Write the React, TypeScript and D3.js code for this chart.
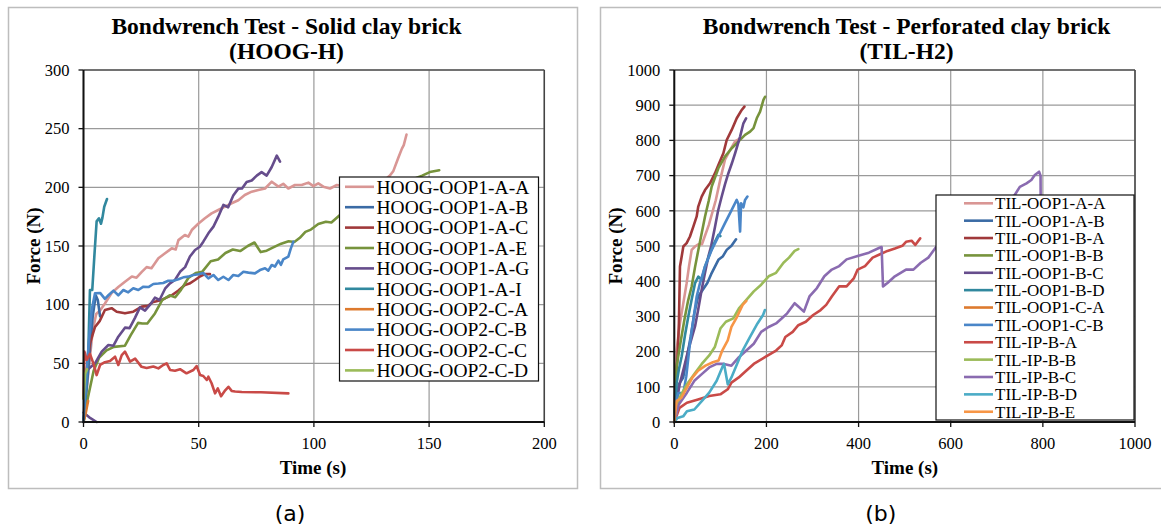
import React from "react";
import * as d3 from "d3";

type P = [number, number] | null;

// ---------------- Panel (a): HOOG-H ----------------
const hoogXTicks = [0, 50, 100, 150, 200];
const hoogYTicks = [0, 50, 100, 150, 200, 250, 300];
const hoogNames = [
  "HOOG-OOP1-A-A", "HOOG-OOP1-A-B", "HOOG-OOP1-A-C", "HOOG-OOP1-A-E", "HOOG-OOP1-A-G",
  "HOOG-OOP1-A-I", "HOOG-OOP2-C-A", "HOOG-OOP2-C-B", "HOOG-OOP2-C-C", "HOOG-OOP2-C-D",
];
const hoogColors = ["#D99694", "#3B6BA5", "#A0393A", "#77933C", "#664D8C", "#31889E", "#DD7A2E", "#4A86C8", "#C94A47", "#9BBB59"];

const hoogA_A: P[] = [[0,0],[2,40],[4,78],[5.5,92],[7.2,95],[9.3,101],[12.2,110],[15.1,115],[18,119.6],[21,124],[23,123],[25.3,128],[27.4,132],[29.5,131],[32.5,139.5],[35.4,143.8],[38.3,148],[40,147],[41.2,155],[44,159.4],[45.5,158],[47,163.6],[49.8,169],[52.7,173.6],[55.6,177.8],[58.5,180.7],[61.4,183.5],[64.3,186.4],[67.2,189],[70,193.5],[73,196.3],[75.9,197.7],[78.8,199],[81.7,204.8],[84.6,200.6],[86.7,203],[88.9,199],[91.8,202],[94.7,202],[97.6,204],[99.8,201],[101.9,203.4],[104.1,200.6],[107,199],[110,202],[115,200],[120,203],[125,201],[130,205],[133,210],[134.5,214],[136.6,225],[138.2,233],[139,236],[140.2,245]];
const hoogA_B: P[] = [[0,0],[1,20],[2.5,55],[4,90],[5.3,108],[6.2,104],[7.2,90]];
const hoogA_C: P[] = [[0,20],[0.7,33],[2.8,67],[5,81],[7,86],[9.3,95.5],[12.2,97],[14.4,94],[18,92.6],[21.6,94],[25.3,98.3],[28,99],[30,102],[33.9,104],[36,106],[38.3,108],[41.2,112],[44,116.8],[46,118],[48.4,121],[50.5,124],[52.7,126],[54.9,126]];
const hoogA_E: P[] = [[0,0],[1.9,20.7],[4.4,43.7],[6.8,55],[10,61],[13.2,64],[18,65],[20.5,74],[23.7,84.5],[25.5,84],[27.7,84],[31,92.5],[34.2,104],[37.4,108],[39.8,106.3],[42.3,112.6],[45.5,122.7],[48.7,127],[51.5,128],[55.2,137],[58.4,138.5],[61.6,144],[64.8,147],[68,145.7],[71.3,150],[74.2,153],[76.9,144.8],[79.5,146],[82.6,149],[85.8,152],[89,154],[91.5,153.4],[93.9,157],[96.3,162],[98.7,164],[101.9,168.7],[105.2,170.7],[107.6,170],[111.3,176.4],[118,185],[125,192],[132,198],[138,203],[143,207],[147,210],[150.3,213],[154.4,214.6]];
const hoogA_G: P[] = [[0,8],[2.5,4],[5.7,0],null,[2,45],[5,50],[7.9,60],[10.8,65.6],[13,65],[15.1,72.7],[18,80.4],[20,80],[22.4,89],[24.5,97.7],[26.7,95],[28.9,100],[31,106],[33,104],[35.4,113.6],[37.4,118],[39.7,121],[41.9,128],[44.1,132],[46.2,141],[48.4,146.6],[50.5,149.4],[52,153.7],[54.2,160.8],[56.4,166.5],[58.5,175],[60.7,185],[62.8,183],[65,193],[67.2,198.9],[68.8,199],[70.8,204.5],[73,205.8],[75.2,210],[77.3,213],[79.5,210],[81.7,217.3],[83.9,227],[85.3,222]];
const hoogA_I: P[] = [[0,0],[1,25],[2.1,61],[2.8,112.5],[3.8,112.5],[4.7,141],[5.7,171],[6.7,173.6],[7.6,169],[8.2,174],[9,183.5],[10.2,190]];
const hoogC_A: P[] = [[0,0],[0.8,6],[1.5,13],[2,18]];
const hoogC_B: P[] = [[0,0],[0.5,19],[2,60],[3.5,95],[5,109.7],[7.2,110],[9.3,105],[10.8,108],[13,112],[15.1,108],[17.3,112.5],[19.4,110.5],[21.6,114],[23.8,112.5],[26,115.3],[28.2,115],[30.3,117.6],[32.5,118],[34.6,118.5],[36.8,120.4],[39,120.4],[41.2,121.6],[43.3,123.3],[45.5,123.9],[47.7,125.3],[49.9,126],[52,127],[54.2,122.4],[56.4,125.3],[58.5,121],[60.7,123.8],[62.9,121],[65,125.3],[67.2,124.5],[69.4,128],[71.6,127.3],[74.4,126.7],[76.6,129.5],[78.8,131],[80.2,129],[81.7,133.8],[83.1,132.5],[84.6,137.5],[85.7,134],[86.7,138.6],[88.9,141],[90,148],[91.1,153.7]];
const hoogC_C: P[] = [[0,22],[0.4,60],[1.4,53],[2.8,58],[4.3,50],[5.7,40],[7.2,48.6],[9.3,51],[11.5,52],[13.7,55.7],[15.1,48.6],[16.6,57],[18,60],[20.2,51.4],[22.4,54],[25.2,47],[27.4,46],[30.3,47.3],[32.5,45.7],[34.6,48.6],[36.1,50],[37.6,44.3],[39.7,43.7],[41.9,45],[44.7,41.5],[47.7,44.3],[49.1,47.7],[50.6,40],[52,39.2],[53.5,35.8],[54.2,38.6],[55.6,33],[57.1,24.4],[58.3,28.6],[59.7,22],[61.5,27],[62.9,30],[64.3,26.5],[65.8,26],[68.7,25.6],[77,25.3],[88.9,24.4]];
const hoogC_D: P[] = [[0,20],[0.7,41],[1.5,45]];
const hoogSeries = [hoogA_A, hoogA_B, hoogA_C, hoogA_E, hoogA_G, hoogA_I, hoogC_A, hoogC_B, hoogC_C, hoogC_D];

// ---------------- Panel (b): TIL-H2 ----------------
const tilXTicks = [0, 200, 400, 600, 800, 1000];
const tilYTicks = [0, 100, 200, 300, 400, 500, 600, 700, 800, 900, 1000];
const tilNames = [
  "TIL-OOP1-A-A", "TIL-OOP1-A-B", "TIL-OOP1-B-A", "TIL-OOP1-B-B", "TIL-OOP1-B-C", "TIL-OOP1-B-D",
  "TIL-OOP1-C-A", "TIL-OOP1-C-B", "TIL-IP-B-A", "TIL-IP-B-B", "TIL-IP-B-C", "TIL-IP-B-D", "TIL-IP-B-E",
];
const tilColors = ["#D99694", "#3B6BA5", "#A0393A", "#77933C", "#664D8C", "#31889E", "#DD7A2E", "#4A86C8", "#C94A47", "#9BBB59", "#8A6BB0", "#4BACC6", "#F79646"];

const tilOA_A: P[] = [[0,0],[5,205],[12.3,281],[19.6,337.7],[26.8,394.5],[31.9,442],[37.7,489],[44.9,498.6],[52.2,505],[60,505],[75,560],[90,630],[100,690],[110,745],[120,770],[132,797],[143,806]];
const tilOA_B: P[] = [[0,0],[5,60],[9.7,107],[19.3,126.6],[27.4,184],[35.5,241.6],[43.5,308.7],[51.6,356.7],[60,372],[71.7,395],[80,420],[95.7,460.7],[105,470],[113.8,489],[124.1,500.5],[134,519]];
const tilOB_A: P[] = [[0,0],[3,120],[7,182],[10,281],[12.3,442],[16,470],[19.6,498.6],[26.8,508],[34,527],[41.3,555],[48.6,584],[52,612],[59.4,640.5],[66.7,659],[77.5,678],[88.4,707],[95.7,730],[106.5,763.5],[113.8,801],[124.6,829.7],[135.5,862.8],[146.4,886.5],[152.2,896]];
const tilOB_B: P[] = [[0,0],[5,158],[14,230],[23.2,300],[30,345],[37.7,385],[45,440],[52.2,489],[60,540],[66.7,584],[75,630],[81.2,669],[95.7,721],[110,754],[124.6,777.7],[139,796.6],[153.6,815.5],[164.5,825],[172,835],[179,862.8],[186.2,881.7],[193.5,915],[197,924]];
const tilOB_C: P[] = [[0,0],[5,60],[12.3,110.7],[20,150],[30.4,205],[38,240],[45,271.5],[52,320],[59.4,375.6],[66,420],[73.9,470],[80,500],[88.4,555],[95,600],[102.9,640.5],[110,675],[117.4,706.7],[125,735],[132,763.5],[142.8,810.8],[150,848.6],[155.8,862.8]];
const tilOB_D: P[] = [[0,0],[5,110],[10,150],[16,186],[23,245],[30.4,300],[38,350],[45,394.5],[52.2,413],[59.4,404],[66.7,442],[77.5,479.6],[88.4,512.8],[95.7,531.7],[100,528]];
const tilOC_A: P[] = [[0,0],[2,30],[4,55]];
const tilOC_B: P[] = [[0,0],[4,60],[8.7,82],[19.6,82],[26,130],[34,224],[41.3,290],[48.6,356.7],[55.8,394.5],[66.7,442],[81.2,489],[95.7,527],[110,565],[124.6,602.6],[135.5,631],[139,620],[142.8,541],[145,621.6],[150,610],[153.6,631],[158.7,640.5]];
const tilIP_A: P[] = [[0,0],[11.3,40],[27.4,54.7],[51.6,64],[75.8,73.8],[100,78.6],[116,93],[124,112],[140,126.6],[156,145.7],[172.5,165],[196.7,184],[220.9,203],[233,217.6],[241,241.6],[257,256],[269.2,275],[285.4,284.7],[301.5,304],[317.6,318],[329.7,332.7],[341.9,356.7],[358,385.4],[374,385.4],[390,409],[398,433],[414,443],[430.5,467],[446.6,476.5],[462.7,486],[478.8,492.8],[495,500.5],[503,512],[515,515],[523,503],[533.7,521.6]];
const tilIP_B: P[] = [[0,0],[11.3,69],[27.4,107],[43.5,136],[59.6,165],[75.8,189],[87.9,213],[100,265.6],[112,284.7],[128,294.4],[140.3,323],[156.4,347],[172.5,371],[188.6,390],[204.8,414],[220.9,423.8],[237,452.5],[249,467],[261.2,486],[269.2,491]];
const tilIP_C: P[] = [[0,0],[9.7,50],[27.4,83.4],[43.5,117],[59.6,136],[75.8,155],[92,165],[108,165],[124,160],[140.3,184],[156.4,203],[172.5,222.4],[188.6,256],[204.8,270],[220.9,280],[233,294],[245,308.7],[261.2,337.5],[269.2,328],[281.3,313.5],[293.4,356.7],[309.6,380.6],[325.7,414],[341.9,433],[358,443],[374,462],[398,471.7],[422.4,481],[446.6,495.7],[450,497],[453,385.4],[462.7,395],[478.8,414],[503,433],[519,433],[535,452.5],[551.4,467],[567.5,495.7],[600,530],[650,570],[700,610],[739,645],[750,668],[764.5,678],[775,687.5],[782.5,701.7],[791.8,711],[795,700],[795.5,560]];
const tilIP_D: P[] = [[0,0],[7,11.5],[19.3,16],[27.4,30.7],[43.5,35.5],[59.6,59.4],[75.8,83.4],[92,117],[104,155],[108,165],[116,107],[124,126.6],[136.2,165],[148.3,203],[164.4,241.6],[180.6,280],[192.7,304],[196.7,318]];
const tilIP_E: P[] = [[0,0],[4.8,59.4],[15.3,69],[27.4,98],[39.5,126.6],[51.6,145.7],[67.7,160],[83.8,169.7],[96,174.5],[104,203],[116,232],[124,270],[136.2,299],[148.3,332.7],[156.4,344]];
const tilSeries = [tilOA_A, tilOA_B, tilOB_A, tilOB_B, tilOB_C, tilOB_D, tilOC_A, tilOC_B, tilIP_A, tilIP_B, tilIP_C, tilIP_D, tilIP_E];

const SERIF = "'Liberation Serif', 'Times New Roman', serif";

type PanelProps = {
  frame: [number, number, number, number];
  plot: [number, number, number, number]; // left, top, right, bottom
  xMax: number;
  yMax: number;
  xTicks: number[];
  yTicks: number[];
  title: string[];
  titleX: number;
  names: string[];
  colors: string[];
  series: P[][];
  legend: { x: number; y: number; w: number; h: number; row0: number; step: number; l0: number; l1: number; tx: number; fs: number };
  caption: string;
  captionX: number;
  yLabelX: number;
  xLabelX: number;
};

function Panel(p: PanelProps) {
  const [pl, pt, pr, pb] = p.plot;
  const x = d3.scaleLinear().domain([0, p.xMax]).range([pl, pr]);
  const y = d3.scaleLinear().domain([0, p.yMax]).range([pb, pt]);
  const line = d3
    .line<P>()
    .defined((d) => d !== null)
    .x((d) => x((d as [number, number])[0]))
    .y((d) => y((d as [number, number])[1]));
  const [fx, fy, fw, fh] = p.frame;
  const L = p.legend;
  return (
    <g>
      <rect x={fx} y={fy} width={fw} height={fh} fill="#fff" stroke="#bdbdbd" strokeWidth={1.5} />
      {p.title.map((t, i) => (
        <text key={i} x={p.titleX} y={34 + i * 25} textAnchor="middle" fontFamily={SERIF} fontWeight="bold" fontSize={23.5} fill="#000">
          {t}
        </text>
      ))}
      {p.xTicks.map((t) => (
        <line key={"gx" + t} x1={x(t)} x2={x(t)} y1={pt} y2={pb} stroke="#9a9a9a" strokeWidth={1.2} />
      ))}
      {p.yTicks.map((t) => (
        <line key={"gy" + t} x1={pl} x2={pr} y1={y(t)} y2={y(t)} stroke="#9a9a9a" strokeWidth={1.2} />
      ))}
      <line x1={pl} x2={pr} y1={pt} y2={pt} stroke="#555" strokeWidth={1.3} />
      <line x1={pr} x2={pr} y1={pt} y2={pb} stroke="#444" strokeWidth={1.5} />
      {p.series.map((s, i) => (
        <path key={"s" + i} d={line(s) || ""} fill="none" stroke={p.colors[i]} strokeWidth={2.6} strokeLinejoin="round" strokeLinecap="round" />
      ))}
      <line x1={pl} x2={pl} y1={pt} y2={pb + 1} stroke="#111" strokeWidth={2} />
      <line x1={pl} x2={pr} y1={pb} y2={pb} stroke="#111" strokeWidth={2.2} />
      {p.yTicks.map((t) => (
        <g key={"ty" + t}>
          <line x1={pl - 5} x2={pl} y1={y(t)} y2={y(t)} stroke="#111" strokeWidth={1.3} />
          <text x={pl - 14} y={y(t)} dy="0.35em" textAnchor="end" fontFamily={SERIF} fontSize={16.5} fill="#000">
            {t}
          </text>
        </g>
      ))}
      {p.xTicks.map((t) => (
        <g key={"tx" + t}>
          <line x1={x(t)} x2={x(t)} y1={pb} y2={pb + 5} stroke="#111" strokeWidth={1.3} />
          <text x={x(t)} y={448.5} textAnchor="middle" fontFamily={SERIF} fontSize={16.5} fill="#000">
            {t}
          </text>
        </g>
      ))}
      <text x={p.xLabelX} y={474} textAnchor="middle" fontFamily={SERIF} fontWeight="bold" fontSize={19} fill="#000">
        Time (s)
      </text>
      <text
        transform={`translate(${p.yLabelX},${(pt + pb) / 2}) rotate(-90)`}
        dy="0.35em"
        textAnchor="middle"
        fontFamily={SERIF}
        fontWeight="bold"
        fontSize={19}
        fill="#000"
      >
        Force (N)
      </text>
      <rect x={L.x} y={L.y} width={L.w} height={L.h} fill="#fff" stroke="#111" strokeWidth={1.2} />
      {p.names.map((n, i) => {
        const cy = L.row0 + i * L.step;
        return (
          <g key={"lg" + n}>
            <line x1={L.l0} x2={L.l1} y1={cy} y2={cy} stroke={p.colors[i]} strokeWidth={2.6} />
            <text x={L.tx} y={cy} dy="0.35em" fontFamily={SERIF} fontSize={L.fs} fill="#000">
              {n}
            </text>
          </g>
        );
      })}
      <text x={p.captionX} y={521} textAnchor="middle" fontFamily="'DejaVu Sans', Verdana, sans-serif" fontSize={22} fill="#000">
        {p.caption}
      </text>
    </g>
  );
}

export default function App() {
  return (
    <svg width={1161} height={529} style={{ position: "absolute", left: 0, top: 0, background: "#fff" }}>
      <rect x={0} y={0} width={1161} height={529} fill="#fff" />
      <Panel
        frame={[8.5, 7.5, 569, 481]}
        plot={[83.5, 70, 544.3, 422]}
        xMax={200}
        yMax={300}
        xTicks={hoogXTicks}
        yTicks={hoogYTicks}
        title={["Bondwrench Test - Solid clay brick", "(HOOG-H)"]}
        titleX={286.5}
        names={hoogNames}
        colors={hoogColors}
        series={hoogSeries}
        legend={{ x: 339.5, y: 177, w: 199, h: 204, row0: 186.8, step: 20.4, l0: 345, l1: 374, tx: 376.5, fs: 19.5 }}
        caption="(a)"
        captionX={290}
        yLabelX={33}
        xLabelX={313}
      />
      <Panel
        frame={[600.5, 7.5, 580, 481]}
        plot={[674.3, 70, 1135, 422]}
        xMax={1000}
        yMax={1000}
        xTicks={tilXTicks}
        yTicks={tilYTicks}
        title={["Bondwrench Test - Perforated clay brick", "(TIL-H2)"]}
        titleX={906.5}
        names={tilNames}
        colors={tilColors}
        series={tilSeries}
        legend={{ x: 936, y: 195, w: 198, h: 225, row0: 203.3, step: 17.37, l0: 964, l1: 993, tx: 995, fs: 17 }}
        caption="(b)"
        captionX={880.7}
        yLabelX={615}
        xLabelX={904.8}
      />
    </svg>
  );
}
